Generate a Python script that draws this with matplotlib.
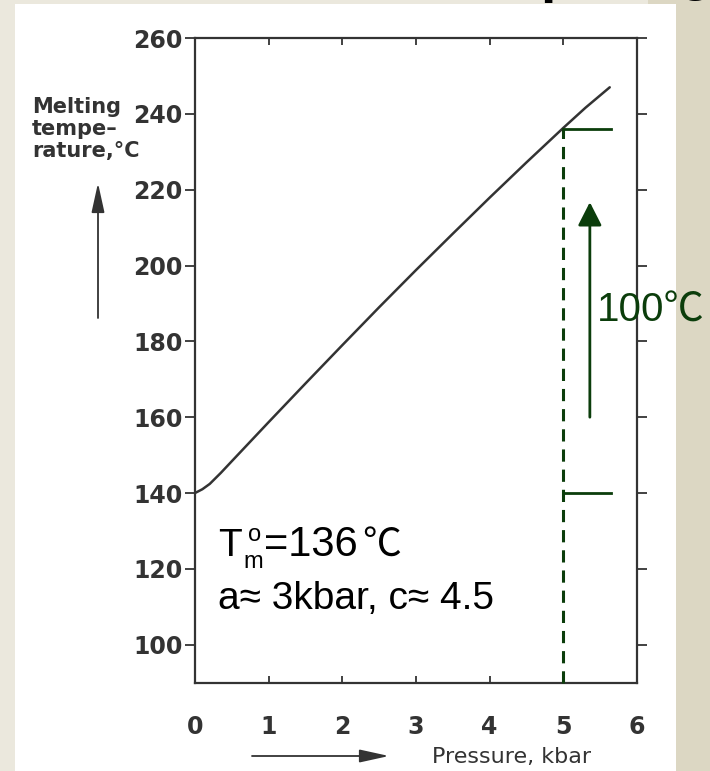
import matplotlib
matplotlib.use('Agg')
import matplotlib.pyplot as plt
from matplotlib.patches import Rectangle

# ---------------- data ----------------
pressure = [0.0, 0.1, 0.2, 0.35, 0.5, 1.0, 1.5, 2.0, 2.5, 3.0, 3.5, 4.0, 4.5, 5.0, 5.3, 5.63]
melt_temp = [140.0, 141.0, 142.4, 145.3, 148.4, 158.7, 168.9, 179.0, 189.0, 198.8, 208.4, 217.9, 227.2, 236.3, 241.6, 247.0]

x_ticks = [0, 1, 2, 3, 4, 5, 6]
x_tick_labels = ['0', '1', '2', '3', '4', '5', '6']
y_ticks = [100, 120, 140, 160, 180, 200, 220, 240, 260]
y_tick_labels = ['100', '120', '140', '160', '180', '200', '220', '240', '260']

marker_pressure = 5.0          # dashed vertical line
span_low, span_high = 140, 236 # bracket levels (100 C span)
bracket_end = 5.65
arrow_x = 5.36
arrow_from, arrow_to = 160, 216.7

# ---------------- figure ----------------
W, H = 710, 771
plt.rcParams['font.family'] = ['DejaVu Sans']
fig = plt.figure(figsize=(W / 100, H / 100), dpi=100)
fig.patch.set_facecolor('white')


def fx(x):
    return x / W


def fy(y):
    return 1 - y / H


LIGHT = '#ebe8dd'
DARK = '#dcd7c3'
GREEN = '#0b3d0b'
INK = '#333333'

for (x0, y0, x1, y1, c) in [(0, 0, 15, H, LIGHT), (0, 0, 648, 4, LIGHT),
                             (648, 0, W, 4, DARK), (676, 0, W, H, DARK)]:
    fig.patches.append(Rectangle((fx(x0), fy(y1)), (x1 - x0) / W, (y1 - y0) / H,
                                 transform=fig.transFigure, facecolor=c,
                                 edgecolor='none', zorder=-1))

# cut-off title glyphs at the very top (only their descenders show)
fig.text(fx(540), fy(-9), 'p', fontsize=40, fontweight='bold', family=['Liberation Sans'],
         color='black', ha='left', va='baseline')
fig.text(fx(679), fy(-11), 'g', fontsize=40, fontweight='bold', family=['Liberation Sans'],
         color='black', ha='left', va='baseline')

ax = fig.add_axes([fx(195), fy(683), (637 - 195) / W, (683 - 38) / H])
ax.set_facecolor('white')
ax.set_xlim(0, 6)
ax.set_ylim(89.9, 260)

ax.plot(pressure, melt_temp, color=INK, lw=1.8, solid_capstyle='round', zorder=3)

for s in ax.spines.values():
    s.set_color(INK)
    s.set_linewidth(1.6)

ax.set_xticks(x_ticks)
ax.set_xticklabels(x_tick_labels, fontsize=17, fontweight='bold', color=INK)
ax.set_yticks(y_ticks)
ax.set_yticklabels(y_tick_labels, fontsize=17, fontweight='bold', color=INK)
ax.tick_params(axis='y', direction='out', length=7, width=1.3, pad=2, colors=INK,
               labelcolor=INK)
ax.tick_params(axis='x', direction='in', length=5, width=1.3, pad=23, colors=INK,
               labelcolor=INK)
ax.tick_params(top=True, right=True, direction='in', which='both')
ax.tick_params(axis='y', which='both', left=True, direction='out')

# green annotation
ax.plot([marker_pressure, marker_pressure], [89.9, span_high], color=GREEN, lw=2.2,
        dashes=(4, 2.6), zorder=4, clip_on=False)
ax.plot([marker_pressure, bracket_end], [span_high, span_high], color=GREEN, lw=2.0, zorder=4)
ax.plot([marker_pressure, bracket_end], [span_low, span_low], color=GREEN, lw=2.0, zorder=4)
ax.annotate('', xy=(arrow_x, arrow_to), xytext=(arrow_x, arrow_from),
            arrowprops=dict(arrowstyle='-|>,head_length=0.55,head_width=0.28',
                            mutation_scale=26, color=GREEN, lw=2.0,
                            shrinkA=0, shrinkB=0), zorder=5)

fig.text(fx(597), fy(322), '100℃', fontsize=29, color=GREEN,
         family=['Liberation Sans', 'Noto Sans CJK SC'], ha='left', va='baseline')

# formula text
TXT = dict(color='black', va='baseline', ha='left')
LIB = ['Liberation Sans']
fig.text(fx(218), fy(556), 'T', fontsize=28, family=LIB, **TXT)
fig.text(fx(243), fy(568), 'm', fontsize=17, family=LIB, **TXT)
fig.text(fx(248), fy(541), 'o', fontsize=17, family=LIB, **TXT)
fig.text(fx(264), fy(556), '=136', fontsize=30, family=LIB, **TXT)
fig.text(fx(362), fy(556), '℃', fontsize=28, family=['Noto Sans CJK SC'], **TXT)
fig.text(fx(218), fy(609), 'a≈ 3kbar, c≈ 4.5', fontsize=28, family=LIB, **TXT)

# y-axis label block
YL = dict(fontsize=15, fontweight='bold', color=INK, ha='left', va='baseline')
fig.text(fx(32), fy(113), 'Melting', **YL)
fig.text(fx(32), fy(135), 'tempe–', **YL)
fig.text(fx(32), fy(157), 'rature,°C', **YL)
ax.annotate('', xy=(98, H - 183), xycoords='figure pixels',
            xytext=(98, H - 318), textcoords='figure pixels',
            arrowprops=dict(arrowstyle='-|>,head_length=1.0,head_width=0.22',
                            mutation_scale=18, color=INK, lw=1.3,
                            shrinkA=0, shrinkB=0), annotation_clip=False)

# x-axis label
fig.text(fx(432), fy(763), 'Pressure, kbar', fontsize=16, color=INK, ha='left', va='baseline')
ax.annotate('', xy=(389, H - 756), xycoords='figure pixels',
            xytext=(252, H - 756), textcoords='figure pixels',
            arrowprops=dict(arrowstyle='-|>,head_length=1.0,head_width=0.22',
                            mutation_scale=18, color=INK, lw=1.3,
                            shrinkA=0, shrinkB=0), annotation_clip=False)

fig.savefig('out.png', dpi=100, facecolor=fig.get_facecolor())
